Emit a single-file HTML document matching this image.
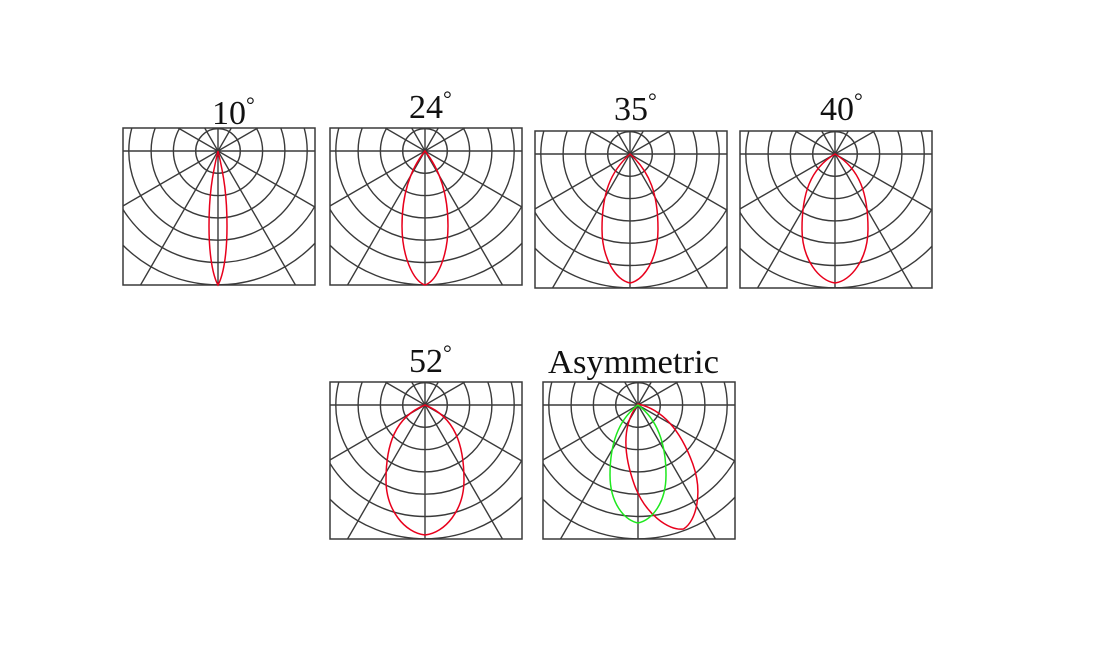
<!DOCTYPE html>
<html><head><meta charset="utf-8"><style>
html,body{margin:0;padding:0;background:#fff;}
svg{display:block;}
text{font-family:"Liberation Serif",serif;font-size:34px;fill:#111;}
</style></head><body>
<svg width="1109" height="650" viewBox="0 0 1109 650" xmlns="http://www.w3.org/2000/svg">
<defs>
<clipPath id="cp"><rect x="-95" y="-23" width="192" height="157"/></clipPath>
<g id="grid">
 <g clip-path="url(#cp)" fill="none" stroke="#3a3a3a" stroke-width="1.4">
  <circle r="22.3"/><circle r="44.6"/><circle r="66.9"/><circle r="89.2"/><circle r="111.5"/><circle r="133.8"/>
  <line x1="-200" y1="0" x2="200" y2="0"/>
  <line x1="0" y1="-200" x2="0" y2="200"/>
  <line x1="-173" y1="-100" x2="173" y2="100"/>
  <line x1="-173" y1="100" x2="173" y2="-100"/>
  <line x1="-100" y1="-173" x2="100" y2="173"/>
  <line x1="-100" y1="173" x2="100" y2="-173"/>
 </g>
 <rect x="-95" y="-23" width="192" height="157" fill="none" stroke="#3a3a3a" stroke-width="1.5"/>
</g>
</defs>

<use href="#grid" x="218" y="151"/>
<use href="#grid" x="425" y="151"/>
<use href="#grid" x="630" y="154"/>
<use href="#grid" x="835" y="154"/>
<use href="#grid" x="425" y="405"/>
<use href="#grid" x="638" y="405"/>

<g fill="none" stroke="#e8001c" stroke-width="1.5">
 <path transform="translate(218,151)" d="M0 0 C6 25 9 45 9 75 C9 105 5 125 0 134 C-5 125 -9 105 -9 75 C-9 45 -6 25 0 0Z"/>
 <path transform="translate(425,151)" d="M0 0 C16 20 23 45 23 75 C23 105 12 130 0 134 C-12 130 -23 105 -23 75 C-23 45 -16 20 0 0Z"/>
 <path transform="translate(630,154)" d="M0 0 C20 18 28 40 28 75 C28 105 14 126 0 129 C-14 126 -28 105 -28 75 C-28 40 -20 18 0 0Z"/>
 <path transform="translate(835,154)" d="M0 0 C25 15 33 40 33 75 C33 105 16 127 0 129 C-16 127 -33 105 -33 75 C-33 40 -25 15 0 0Z"/>
 <path transform="translate(425,405)" d="M0 0 C30 12 39 40 39 75 C39 105 20 128 0 130 C-20 128 -39 105 -39 75 C-39 40 -30 12 0 0Z"/>
 <path transform="translate(638,404) rotate(-20)" d="M0 0 C22 14 31 40 31 75 C31 105 15 130 0 133 C-15 130 -31 105 -31 75 C-31 40 -22 14 0 0Z"/>
</g>
<path transform="translate(638,405)" fill="none" stroke="#1ee81e" stroke-width="1.5" d="M0 0 C20 15 28 40 28 70 C28 98 14 115 0 118 C-14 115 -28 98 -28 70 C-28 40 -20 15 0 0Z"/>

<text x="212" y="124">10<tspan font-size="22" dy="-12">°</tspan></text>
<text x="409" y="118">24<tspan font-size="22" dy="-12">°</tspan></text>
<text x="614" y="120">35<tspan font-size="22" dy="-12">°</tspan></text>
<text x="820" y="120">40<tspan font-size="22" dy="-12">°</tspan></text>
<text x="409" y="372">52<tspan font-size="22" dy="-12">°</tspan></text>
<text x="548" y="373" textLength="171" lengthAdjust="spacingAndGlyphs">Asymmetric</text>
</svg>
</body></html>
